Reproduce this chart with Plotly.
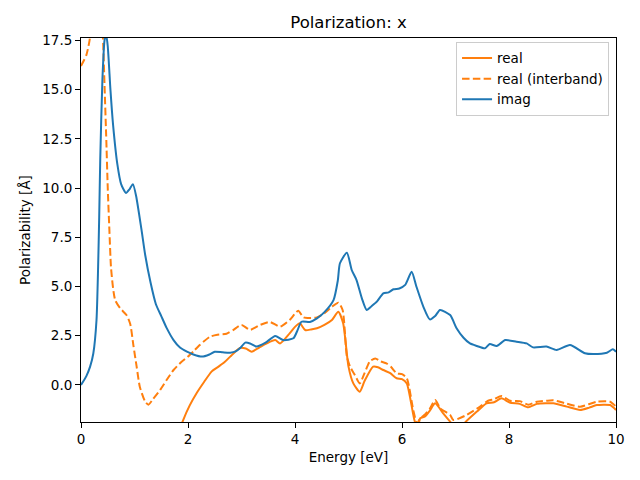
import plotly.graph_objects as go

# ---- data ----
imag_E = [0, 0.1, 0.17, 0.23, 0.29, 0.32, 0.34, 0.36, 0.40, 0.44, 0.47, 0.50, 0.55, 0.60, 0.68, 0.75,
          0.84, 0.91, 0.97, 1.03, 1.13, 1.2, 1.3, 1.4, 1.5, 1.6, 1.73, 1.85, 1.98, 2.1, 2.26, 2.4, 2.5,
          2.65, 2.79, 2.9, 2.97, 3.07, 3.16, 3.28, 3.45, 3.63, 3.78, 3.97, 4.05, 4.12, 4.28, 4.41, 4.55,
          4.72, 4.80, 4.84, 4.97, 5.06, 5.15, 5.25, 5.34, 5.43, 5.53, 5.65, 5.75, 5.84, 5.95, 6.06, 6.18,
          6.27, 6.4, 6.52, 6.62, 6.71, 6.9, 7.02, 7.15, 7.27, 7.4, 7.55, 7.64, 7.77, 7.93, 8.14, 8.33,
          8.45, 8.7, 8.89, 9.14, 9.42, 9.58, 9.83, 9.94, 10.0]
imag_val = [0, 0.45, 0.93, 1.6, 3.3, 6.0, 8.5, 11.5, 15.5, 17.5, 17.8, 17.2, 15.0, 13.2, 11.2, 10.2,
            9.75, 9.95, 10.2, 9.6, 7.9, 6.6, 5.2, 4.1, 3.5, 2.9, 2.28, 1.9, 1.69, 1.55, 1.44, 1.55, 1.69,
            1.66, 1.64, 1.72, 1.86, 2.15, 2.11, 1.95, 2.15, 2.49, 2.28, 2.37, 2.8, 3.21, 3.2, 3.38, 3.7,
            4.31, 5.3, 6.18, 6.72, 5.84, 5.33, 4.4, 3.81, 4.0, 4.23, 4.65, 4.7, 4.86, 4.9, 5.08, 5.75,
            4.99, 3.97, 3.33, 3.5, 3.81, 3.55, 2.88, 2.4, 2.11, 1.98, 1.86, 2.08, 1.98, 2.28, 2.2, 2.11,
            1.91, 1.95, 1.78, 2.03, 1.61, 1.57, 1.64, 1.81, 1.69]

inter_E = [0, 0.1, 0.16, 0.22, 0.3, 0.36, 0.41, 0.44, 0.47, 0.50, 0.53, 0.56, 0.6, 0.64, 0.73, 0.85,
           0.92, 0.98, 1.04, 1.1, 1.2, 1.26, 1.35, 1.48, 1.6, 1.73, 1.87, 2.0, 2.1, 2.22, 2.41, 2.55,
           2.72, 2.85, 3.0, 3.16, 3.35, 3.53, 3.72, 3.9, 4.06, 4.16, 4.3, 4.41, 4.55, 4.69, 4.81, 4.89,
           4.97, 5.03, 5.12, 5.21, 5.3, 5.4, 5.5, 5.6, 5.71, 5.8, 5.9, 6.0, 6.09, 6.21, 6.28, 6.34, 6.43,
           6.52, 6.62, 6.72, 6.9, 6.96, 7.21, 7.46, 7.61, 7.72, 7.86, 8.02, 8.2, 8.36, 8.52, 8.7, 8.83,
           9.08, 9.33, 9.64, 9.89, 10.0]
inter_val = [16.2, 16.75, 17.5, 19.0, 20.0, 19.5, 17.6, 15.2, 12.7, 10.0, 7.9, 6.0, 4.9, 4.3, 3.9, 3.55,
             3.1, 2.0, 0.93, -0.1, -0.85, -1.0, -0.7, -0.25, 0.25, 0.76, 1.15, 1.44, 1.7, 2.03, 2.45, 2.55,
             2.6, 2.8, 3.05, 2.8, 3.05, 3.2, 2.96, 3.3, 3.77, 3.43, 3.4, 3.43, 3.65, 3.97, 4.18, 3.81,
             1.44, 0.93, 0.5, 0.08, 0.6, 1.2, 1.35, 1.2, 1.1, 0.9, 0.59, 0.55, 0.34, -1.27, -1.95, -1.69, -1.5,
             -1.2, -0.76, -1.2, -1.52, -1.78, -1.52, -1.1, -0.8, -0.72, -0.56, -0.8, -0.82, -1.0, -0.85, -0.8, -0.78,
             -0.95, -1.1, -0.85, -0.85, -1.1]

real_E = [1.5, 1.75, 1.91, 2.03, 2.16, 2.3, 2.44, 2.57, 2.68, 2.79, 2.97, 3.08, 3.19, 3.33, 3.47, 3.63,
          3.72, 3.9, 4.0, 4.09, 4.19, 4.3, 4.41, 4.55, 4.69, 4.81, 4.90, 5.0, 5.09, 5.21, 5.3, 5.46, 5.55,
          5.65, 5.78, 5.9, 6.0, 6.09, 6.24, 6.3, 6.34, 6.43, 6.52, 6.62, 6.77, 6.9, 7.05, 7.18, 7.4, 7.58,
          7.72, 7.86, 8.02, 8.2, 8.36, 8.52, 8.7, 8.83, 9.08, 9.33, 9.5, 9.64, 9.89, 10.0]
real_val = [-6.0, -3.0, -1.78, -1.05, -0.42, 0.15, 0.68, 0.93, 1.15, 1.44, 1.88, 1.85, 1.69, 1.9, 2.11, 2.28,
            2.11, 2.62, 2.95, 3.13, 2.79, 2.82, 2.88, 3.05, 3.3, 3.72, 3.13, 0.93, 0.08, -0.34, 0.2, 0.93, 0.9,
            0.76, 0.6, 0.34, 0.3, 0.08, -1.86, -2.1, -1.69, -1.6, -1.3, -0.93, -1.44, -1.86, -2.3, -1.9, -1.35, -0.93,
            -0.88, -0.68, -0.9, -0.96, -1.13, -0.96, -0.93, -0.93, -1.1, -1.27, -1.15, -1.02, -1.02, -1.27]

x_ticks = [0, 2, 4, 6, 8, 10]
y_ticks = [0.0, 2.5, 5.0, 7.5, 10.0, 12.5, 15.0, 17.5]

ORANGE = "#ff7f0e"
BLUE = "#1f77b4"
FONT = "DejaVu Sans"

fig = go.Figure()
fig.add_trace(go.Scatter(x=real_E, y=real_val, mode="lines", name="real",
                         line=dict(color=ORANGE, width=2, shape="spline", smoothing=0.6)))
fig.add_trace(go.Scatter(x=inter_E, y=inter_val, mode="lines", name="real (interband)",
                         line=dict(color=ORANGE, width=2, dash="7.5px,3.3px", shape="spline", smoothing=0.6)))
fig.add_trace(go.Scatter(x=imag_E, y=imag_val, mode="lines", name="imag",
                         line=dict(color=BLUE, width=2, shape="spline", smoothing=0.6)))

axis_common = dict(showline=True, linecolor="black", linewidth=1, mirror=True,
                   ticks="outside", ticklen=5, tickwidth=1, tickcolor="black",
                   showgrid=False, zeroline=False,
                   tickfont=dict(family=FONT, size=13.5, color="black"))

# the page body adds an 8px offset, margins compensate for it
fig.update_layout(
    width=640, height=480,
    margin=dict(l=73, r=32, t=30, b=66),
    paper_bgcolor="white", plot_bgcolor="white",
    font=dict(family=FONT, color="black"),
    title=dict(text="Polarization: x", x=0.5, xref="paper", y=1 - 14 / 480, yref="container",
               xanchor="center", yanchor="middle", font=dict(family=FONT, size=16.5, color="black")),
    xaxis=dict(range=[0, 10], tickvals=x_ticks, ticktext=[str(t) for t in x_ticks],
               title=dict(text="Energy [eV]", font=dict(family=FONT, size=13.5), standoff=6),
               **axis_common),
    yaxis=dict(range=[-1.88, 17.62], tickvals=y_ticks, ticktext=[f"{t:.1f}" for t in y_ticks],
               title=dict(text="Polarizability [Å]", font=dict(family=FONT, size=13.5), standoff=8),
               **axis_common),
    legend=dict(x=0.987, y=0.99, xanchor="right", yanchor="top",
                bgcolor="rgba(255,255,255,0.8)", bordercolor="#cccccc", borderwidth=1,
                font=dict(family=FONT, size=13.5, color="black"), tracegroupgap=0),
    showlegend=True,
)

fig.write_html("out.html")
